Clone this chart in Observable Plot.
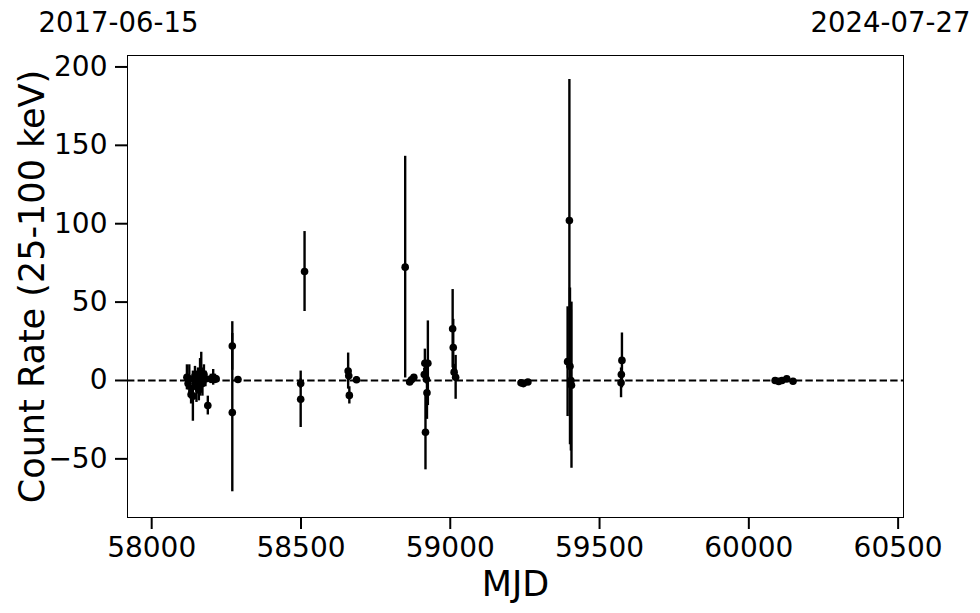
<!DOCTYPE html>
<html>
<head>
<meta charset="utf-8">
<script src="https://cdn.jsdelivr.net/npm/d3@7"></script>
<script src="https://cdn.jsdelivr.net/npm/@observablehq/plot@0.6"></script>
<style>
  html, body { margin: 0; padding: 0; background: #fff; }
  #chart { width: 980px; height: 613px; }
</style>
</head>
<body>
<div id="chart"></div>
<script>
// MJD of each measurement
const mjd = [
  58118, 58122, 58126, 58132, 58138, 58145, 58150, 58155, 58158, 58162,
  58166, 58170, 58175, 58180, 58188, 58198, 58206, 58212, 58216,
  58270, 58270, 58289, 58499, 58499, 58512,
  58658, 58660, 58662, 58686,
  58849, 58864, 58870, 58878,
  58913, 58915, 58917, 58920, 58922, 58925,
  59008, 59010, 59013, 59018,
  59237, 59245, 59260,
  59393, 59399, 59401, 59404, 59406,
  59572, 59573, 59575,
  60088, 60100, 60111, 60127, 60148
];
// Count rate (25-100 keV)
const rate = [
  2, -2, 1, -9, -10, 3, -4, 0, -6, 2,
  6, -2, 4, 1, -16, 1, 2, 1, 1,
  22, -20.5, 0.6, -2, -12, 69.5,
  6, 3, -9.5, 0.5,
  72.3, -1, 0.5, 2,
  3.8, 11, -33, 0.8, -7.8, 11,
  33, 21, 5.3, 2,
  -1.5, -2, -1,
  12, 102, 9, 0, -3,
  -1.5, 3.8, 12.8,
  0, -0.6, 0, 1, -0.5
];
// 1-sigma error
const err = [
  8, 4, 9, 6, 16, 6, 10, 8, 7, 12,
  12, 8, 6, 5, 6, 3, 5, 3, 2,
  15.5, 50.5, 1, 3, 18, 25.5,
  11.5, 3, 5.5, 2,
  70.7, 1.5, 1, 1.5,
  4, 9, 24, 3, 17, 27,
  25, 18, 5, 14,
  1, 1, 1,
  35, 90, 50, 45, 53,
  9.5, 3, 17.5,
  1, 1, 1, 1, 1
];
const xTicks = [58000, 58500, 59000, 59500, 60000, 60500];
const yTicks = [-50, 0, 50, 100, 150, 200];
const xDomain = [57919, 60518];
const yDomain = [-87.4, 207.3];
const dateLabels = ["2017-06-15", "2024-07-27"];
const xLabel = "MJD";
const yLabel = "Count Rate (25-100 keV)";

const data = mjd.map((m, i) => ({mjd: m, rate: rate[i], err: err[i]}));

const font = "DejaVu Sans, sans-serif";
const plot = Plot.plot({
  width: 980,
  height: 613,
  marginLeft: 127,
  marginRight: 77,
  marginTop: 55,
  marginBottom: 96,
  style: {fontFamily: font, background: "#fff", color: "#000"},
  x: {domain: xDomain, label: null},
  y: {domain: yDomain, label: null},
  marks: [
    Plot.ruleY([0], {stroke: "#000", strokeWidth: 2.2, strokeDasharray: "7.4,3.2"}),
    Plot.ruleX(data, {x: "mjd", y1: d => d.rate - d.err, y2: d => d.rate + d.err, stroke: "#000", strokeWidth: 2.4}),
    Plot.dot(data, {x: "mjd", y: "rate", r: 3.8, fill: "#000", stroke: "none"}),
    Plot.frame({stroke: "#000", strokeWidth: 1}),
    Plot.axisX({ticks: xTicks, tickFormat: "d", tickSize: 12, tickPadding: 8, strokeWidth: 2, fontSize: 28, label: null}),
    Plot.axisY({ticks: yTicks, tickSize: 12, tickPadding: 8, strokeWidth: 2, fontSize: 28, label: null}),
    Plot.text([xLabel], {frameAnchor: "bottom", lineAnchor: "middle", dy: 67, fontSize: 35, fill: "#000"}),
    Plot.text([yLabel], {frameAnchor: "left", textAnchor: "middle", lineAnchor: "middle", dx: -95, rotate: -90, fontSize: 35, fill: "#000"}),
    Plot.text([xDomain[0]], {x: d => d, frameAnchor: "top", lineAnchor: "middle", dy: -32, dx: -9, text: () => dateLabels[0], fontSize: 27.5, fill: "#000"}),
    Plot.text([xDomain[1]], {x: d => d, frameAnchor: "top", lineAnchor: "middle", dy: -32, dx: -13, text: () => dateLabels[1], fontSize: 27.5, fill: "#000"})
  ]
});
document.getElementById("chart").appendChild(plot);
</script>
</body>
</html>
